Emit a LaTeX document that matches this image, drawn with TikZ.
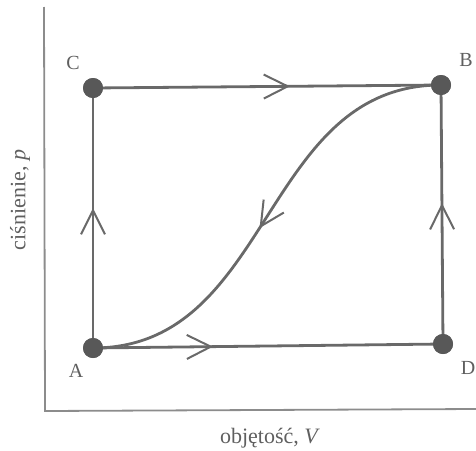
\documentclass[tikz,border=0pt]{standalone}
\usepackage{fontspec}
\setmainfont{Liberation Serif}
\usetikzlibrary{arrows.meta,decorations.markings}
\definecolor{linegray}{RGB}{105,105,105}
\definecolor{dotgray}{RGB}{88,88,88}
\definecolor{axisgray}{RGB}{140,140,140}
\definecolor{textgray}{RGB}{95,95,95}
\tikzset{
  dot/.style={circle,fill=dotgray,inner sep=0pt,minimum size=20pt},
  lbl/.style={text=textgray,font=\fontsize{20}{24}\selectfont,inner sep=0pt},
  axlbl/.style={text=textgray,font=\fontsize{22}{26}\selectfont,inner sep=0pt},
  conn/.style={draw=linegray,line width=2.8pt},
  axisline/.style={draw=axisgray,line width=1.8pt},
  midarrow/.style={postaction={decorate},decoration={markings,
    mark=at position #1 with {\arrow[line width=2pt,linegray]{Straight Barb[length=24pt,width=24pt]}}}}
}
\begin{document}
\begin{tikzpicture}[x=1pt,y=-1pt]
\useasboundingbox (0,0) rectangle (476,450);
% axes
\coordinate (ytop) at (44,7);
\coordinate (O) at (45,411);
\coordinate (xend) at (476,409);
\draw[axisline] (ytop) -- (O) -- (xend);
% points
\node[dot] (A) at (93,348) {};
\node[dot] (B) at (441,85) {};
\node[dot] (C) at (93,88) {};
\node[dot] (D) at (443,344) {};
% connectors
\draw[conn,midarrow=0.566] (C.center) -- (B.center);
\draw[conn,midarrow=0.343] (A.center) -- (D.center);
\draw[conn,midarrow=0.538] (A.center) -- (C.center);
\draw[conn,midarrow=0.544] (D.center) -- (B.center);
\draw[conn,midarrow=0.53] (B.center) .. controls (261,85) and (273,348) .. (A.center);
\node[dot] at (A) {};
\node[dot] at (B) {};
\node[dot] at (C) {};
\node[dot] at (D) {};
% labels
\node[lbl] (lC) at (73,63) {C};
\node[lbl] (lB) at (466,60) {B};
\node[lbl] (lA) at (76,371) {A};
\node[lbl] (lD) at (468,368) {D};
\node[axlbl] (xlab) at (270,438) {objętość, \textit{V}};
\node[axlbl,rotate=90] (ylab) at (20,200) {ciśnienie, \textit{p}};
\end{tikzpicture}
\end{document}
